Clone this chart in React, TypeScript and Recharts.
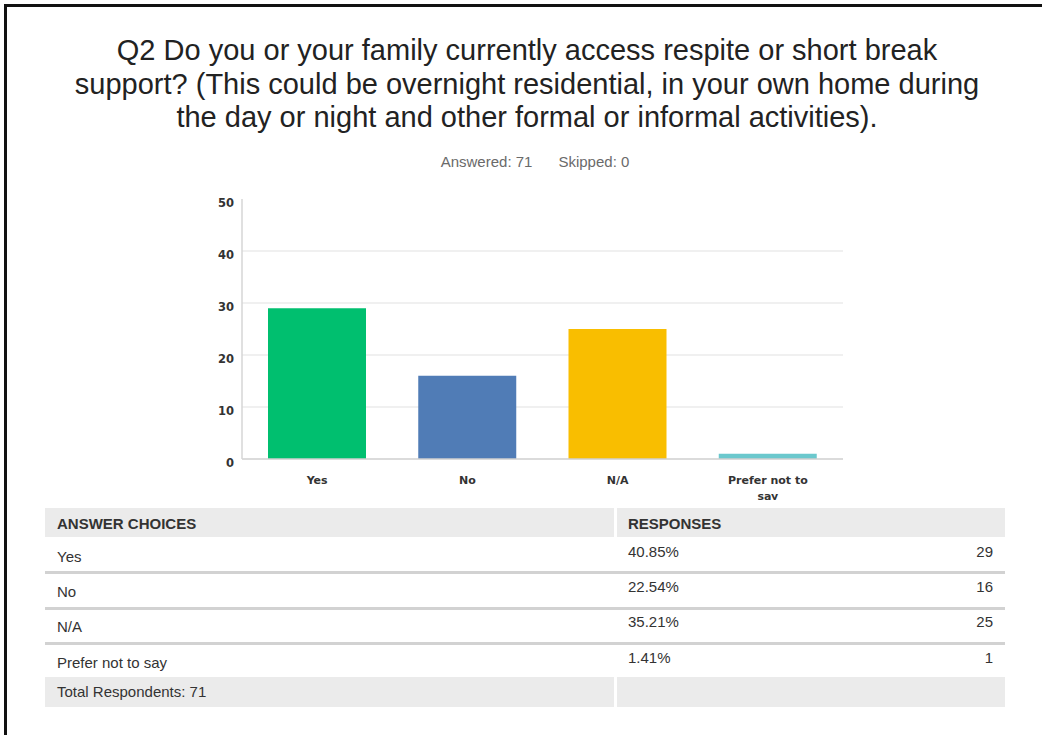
import { BarChart, Bar, XAxis, YAxis, CartesianGrid, Cell } from 'recharts';

const titleLines = [
  'Q2 Do you or your family currently access respite or short break',
  'support? (This could be overnight residential, in your own home during',
  'the day or night and other formal or informal activities).',
];
const answered = 71;
const skipped = 0;

const categories = ['Yes', 'No', 'N/A', 'Prefer not to say'];
const responses = [29, 16, 25, 1];
const percents = ['40.85%', '22.54%', '35.21%', '1.41%'];
const barColors = ['#00bf6f', '#507cb6', '#f9be00', '#6bc8cd'];
const yTicks = [0, 10, 20, 30, 40, 50];
const gridValues = [10, 20, 30, 40];
const totalRespondents = 71;

const data = categories.map((name, i) => ({ name, value: responses[i] }));

const FONT = '"Liberation Sans", Arial, sans-serif';
const TICK_FONT = '"DejaVu Sans", sans-serif';

function CategoryTick({ x, y, payload }: any) {
  const words = String(payload.value).split(' ');
  const lines: string[] = [];
  let cur = '';
  for (const w of words) {
    const next = cur ? cur + ' ' + w : w;
    if (next.length > 13 && cur) {
      lines.push(cur);
      cur = w;
    } else cur = next;
  }
  lines.push(cur);
  return (
    <text x={x} y={y} textAnchor="middle" fontSize={11} fontWeight="bold" fill="#333" fontFamily={TICK_FONT}>
      {lines.map((l, i) => (
        <tspan key={i} x={x} dy={i === 0 ? 17 : 16}>
          {l}
        </tspan>
      ))}
    </text>
  );
}

// text baselines for table rows (label column); value columns sit 5px higher
const rowBaselines = [562, 597, 632, 668];
const sepTops = [571, 607, 642];
const ASC = 13.6; // ascent of 15px Liberation Sans

const cell: any = { position: 'absolute', fontSize: 15, color: '#333', lineHeight: 'normal', whiteSpace: 'nowrap' };

export default function App() {
  return (
    <div style={{ position: 'fixed', left: 0, top: 0, width: 1042, height: 735, background: '#fff', overflow: 'hidden', fontFamily: FONT }}>
      <div style={{ position: 'absolute', left: 4, top: 4, width: 1100, height: 800, borderTop: '3px solid #111', borderLeft: '3px solid #111' }} />

      <div style={{ position: 'absolute', left: 0, top: 34, width: 1054, textAlign: 'center', fontSize: 29, lineHeight: '33.5px', color: '#222', whiteSpace: 'nowrap' }}>
        {titleLines.map((l, i) => (
          <div key={i}>{l}</div>
        ))}
      </div>

      <div style={{ position: 'absolute', left: 0, top: 153, width: 1070, textAlign: 'center', fontSize: 15, color: '#6a6a6a', whiteSpace: 'nowrap' }}>
        <span>Answered: {answered}</span>
        <span style={{ marginLeft: 26 }}>Skipped: {skipped}</span>
      </div>

      <div style={{ position: 'absolute', left: 170, top: 190, width: 690, height: 310, overflow: 'hidden' }}>
        <BarChart width={690} height={310} data={data} margin={{ top: 9, right: 17, left: 0, bottom: 11 }} barCategoryGap={26}>
          <CartesianGrid vertical={false} horizontalValues={gridValues} stroke="#ebebeb" strokeWidth={1.5} />
          <XAxis
            dataKey="name"
            axisLine={{ stroke: '#cfcfcf', strokeWidth: 1.5 }}
            tickLine={false}
            height={30}
            interval={0}
            tick={<CategoryTick />}
          />
          <YAxis
            domain={[0, 50]}
            ticks={yTicks}
            width={72}
            axisLine={{ stroke: '#d6d6d6', strokeWidth: 1.5 }}
            tickLine={false}
            tick={{ fontSize: 11.5, fontWeight: 'bold', fill: '#333', fontFamily: TICK_FONT, dy: 4 }}
          />
          <Bar dataKey="value" isAnimationActive={false}>
            {data.map((d, i) => (
              <Cell key={d.name} fill={barColors[i]} />
            ))}
          </Bar>
        </BarChart>
      </div>

      {/* table */}
      <div style={{ position: 'absolute', left: 45, top: 508, width: 569, height: 29, background: '#ebebeb' }} />
      <div style={{ position: 'absolute', left: 617, top: 508, width: 388, height: 29, background: '#ebebeb' }} />
      <div style={{ ...cell, left: 57, top: 529 - ASC, fontWeight: 'bold' }}>ANSWER CHOICES</div>
      <div style={{ ...cell, left: 628, top: 529 - ASC, fontWeight: 'bold' }}>RESPONSES</div>

      {sepTops.map((t) => (
        <div key={t} style={{ position: 'absolute', left: 45, top: t, width: 960, height: 3, background: '#d2d2d2' }} />
      ))}

      {categories.map((c, i) => (
        <div key={c}>
          <div style={{ ...cell, left: 57, top: rowBaselines[i] - ASC }}>{c}</div>
          <div style={{ ...cell, left: 628, top: rowBaselines[i] - 5 - ASC }}>{percents[i]}</div>
          <div style={{ ...cell, left: 617, width: 376, textAlign: 'right', top: rowBaselines[i] - 5 - ASC }}>{responses[i]}</div>
        </div>
      ))}

      <div style={{ position: 'absolute', left: 45, top: 677, width: 569, height: 30, background: '#ebebeb' }} />
      <div style={{ position: 'absolute', left: 617, top: 677, width: 388, height: 30, background: '#ebebeb' }} />
      <div style={{ ...cell, left: 57, top: 697 - ASC }}>Total Respondents: {totalRespondents}</div>
    </div>
  );
}
